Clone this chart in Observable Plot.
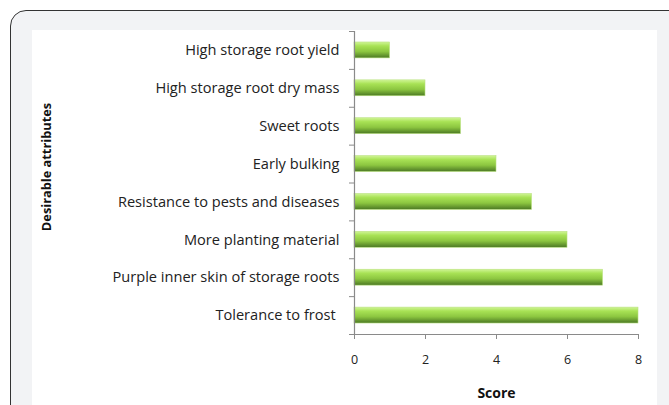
<!DOCTYPE html>
<html>
<head>
<meta charset="utf-8">
<script src="https://cdn.jsdelivr.net/npm/d3@7"></script>
<script src="https://cdn.jsdelivr.net/npm/@observablehq/plot@0.6"></script>
<style>
  html, body { margin: 0; padding: 0; background: #fff; width: 669px; height: 405px; overflow: hidden; }
  #frame { position: absolute; left: 10px; top: 10px; width: 720px; height: 440px; border: 1.5px solid #333; border-radius: 16px; background: #f2f3f5; box-sizing: border-box; }
  #panel { position: absolute; left: 32px; top: 30px; width: 625px; height: 380px; background: #fff; }
  #panel svg { position: absolute; left: 0; top: 0; }
</style>
</head>
<body>
<div id="frame"></div>
<div id="panel"></div>
<script>
const attributes = [
  "High storage root yield",
  "High storage root dry mass",
  "Sweet roots",
  "Early bulking",
  "Resistance to pests and diseases",
  "More planting material",
  "Purple inner skin of storage roots",
  "Tolerance to frost "
];
const scores = [1, 2, 3, 4, 5, 6, 7, 8];
const xTicks = [0, 2, 4, 6, 8];
const xTitle = "Score";
const yTitle = "Desirable attributes";

const data = attributes.map((a, i) => ({attribute: a, score: scores[i], i}));
const boundaries = d3.range(attributes.length + 1).map(k => k - 0.5);
const half = 0.21;

const chart = Plot.plot({
  width: 625,
  height: 375,
  marginLeft: 322,
  marginRight: 19,
  marginTop: 1,
  marginBottom: 71,
  style: {fontFamily: "'Open Sans', sans-serif", fontSize: "13px", color: "#222", background: "transparent"},
  x: {domain: [0, 8]},
  y: {domain: [-0.5, attributes.length - 0.5], reverse: true},
  marks: [
    Plot.rectX(data, {x1: () => 0, x2: "score", y1: d => d.i - half, y2: d => d.i + half, fill: "url(#bargrad)", stroke: "#b9e27f", strokeWidth: 0.6}),
    Plot.ruleX([0], {y1: -0.5, y2: attributes.length - 0.5, stroke: "#8a8a8a", strokeWidth: 1.2}),
    Plot.ruleY([attributes.length - 0.5], {x1: 0, x2: 8, stroke: "#8a8a8a", strokeWidth: 1.2}),
    Plot.axisY({ticks: boundaries, tickFormat: () => "", tickSize: 5, stroke: "#8a8a8a", label: null}),
    Plot.axisY({ticks: d3.range(attributes.length), tickFormat: i => attributes[i], tickSize: 0, tickPadding: 15, label: null, fill: "#222", fontSize: 14.6}),
    Plot.axisX({ticks: xTicks, tickSize: 5, tickPadding: 16, stroke: "#8a8a8a", fill: "#222", fontSize: 12.5, label: null}),
    Plot.text([xTitle], {frameAnchor: "bottom", dy: 63, fontWeight: "bold", fontSize: 14, fill: "#111"}),
    Plot.text([yTitle], {frameAnchor: "left", textAnchor: "middle", rotate: -90, dx: -308, dy: -16, fontWeight: "bold", fontSize: 12.8, fill: "#111"})
  ]
});

const ns = "http://www.w3.org/2000/svg";
const defs = document.createElementNS(ns, "defs");
defs.innerHTML = `<linearGradient id="bargrad" x1="0" y1="0" x2="0" y2="1">
  <stop offset="0" stop-color="#d0f596"/>
  <stop offset="0.25" stop-color="#a8e255"/>
  <stop offset="0.6" stop-color="#8cc640"/>
  <stop offset="1" stop-color="#4b7824"/>
</linearGradient>`;
chart.insertBefore(defs, chart.firstChild);
document.getElementById("panel").appendChild(chart);
</script>
</body>
</html>
